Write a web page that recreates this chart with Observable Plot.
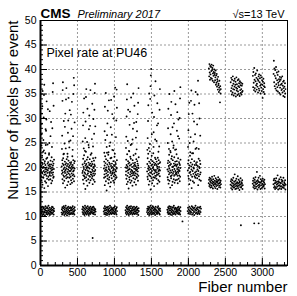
<!DOCTYPE html>
<html><head><meta charset="utf-8">
<script src="https://cdn.jsdelivr.net/npm/d3@7"></script>
<script src="https://cdn.jsdelivr.net/npm/@observablehq/plot@0.6"></script>
<style>body{margin:0;background:#fff}</style>
</head><body><div id="chart"></div>
<script>
// Fiber clusters (start fiber of each module group)
const lowerStarts = [5, 285, 565, 855, 1150, 1440, 1715, 1990];
const lowerWidth = 180;
const upperStarts = [2275, 2570, 2870, 3150];
const upperWidth = 165;

// band near 11 pixels/event
const low11 = [
 [11.2,10.6,11.8,10.9,11.4,10.3,12.0,11.1,10.7,11.6,10.4,11.9,11.0,10.8,11.5,10.2,11.3,12.1,10.9,11.7,10.5,11.2,10.8,11.9,11.1,10.4,11.6,10.7,12.2,11.3,10.6,11.0,11.8,10.3,11.4,10.9,11.0,10.5,11.7,11.3,10.8,12.0,10.6,11.4,11.9,10.9,11.2,10.4,11.6,11.1],
 [10.8,11.5,10.4,11.9,11.2,10.6,11.7,10.9,12.1,11.0,10.3,11.4,11.8,10.7,11.1,12.2,10.5,11.6,10.9,11.3,10.2,11.8,11.0,10.6,11.5,12.0,10.8,11.2,10.4,11.7,11.1,10.7,11.9,10.5,11.3,11.6,11.2,10.7,11.8,10.5,11.4,12.1,10.9,11.1,10.6,11.6,11.0,10.4,11.9,11.3],
 [11.5,10.9,12.0,10.5,11.3,11.8,10.7,11.1,10.3,11.6,12.2,10.8,11.4,10.6,11.9,11.0,10.4,11.7,11.2,10.9,12.1,10.6,11.5,11.0,10.3,11.8,11.3,10.7,11.6,10.5,12.0,11.1,10.8,11.4,10.9,11.7,11.1,10.6,11.9,11.4,10.8,12.0,10.5,11.2,11.7,10.9,11.3,10.4,11.5,11.0],
 [11.0,11.7,10.5,11.3,12.1,10.8,11.6,10.4,11.2,11.9,10.7,11.4,10.3,11.8,11.1,10.6,12.0,11.5,10.9,11.2,10.4,11.7,11.0,12.2,10.6,11.3,10.8,11.9,11.5,10.5,11.1,11.6,10.7,11.4,10.9,11.8,11.3,10.6,11.8,11.0,10.5,12.1,10.9,11.5,11.2,10.7,11.6,10.4,11.9,11.1],
 [11.3,10.7,11.9,11.0,10.4,11.6,12.2,10.9,11.4,10.6,11.8,11.1,10.3,11.5,12.0,10.8,11.2,10.5,11.7,11.0,12.1,10.7,11.3,10.9,11.6,10.4,11.9,11.2,10.6,11.5,10.8,12.0,11.1,10.5,11.4,11.7,11.0,10.6,11.8,11.3,10.9,12.0,10.5,11.4,11.6,10.8,11.2,10.3,11.7,11.1],
 [10.9,11.6,11.2,10.5,12.0,11.4,10.8,11.7,10.3,11.1,11.9,10.6,11.5,12.2,10.9,11.3,10.4,11.8,11.0,10.7,11.6,12.1,10.5,11.2,11.9,10.8,11.4,10.6,11.7,11.1,10.3,11.5,12.0,10.9,11.3,10.7,11.2,10.5,11.8,11.0,10.7,12.1,10.9,11.4,11.7,10.6,11.3,10.4,11.6,11.1],
 [11.4,10.8,11.1,11.9,10.5,11.6,10.9,12.1,11.3,10.6,11.7,10.4,11.2,12.0,10.8,11.5,11.0,10.3,11.8,11.3,10.7,11.9,10.5,11.1,12.2,10.9,11.6,10.6,11.4,11.8,10.4,11.0,11.7,10.8,11.2,11.5,11.0,10.6,11.8,11.3,10.9,12.0,10.5,11.4,11.6,10.7,11.2,10.4,11.9,11.1],
 [11.1,11.8,10.6,11.4,10.9,12.0,11.2,10.5,11.7,11.0,10.8,11.5,12.1,10.4,11.3,11.9,10.7,11.6,11.1,10.3,11.8,10.9,11.4,12.2,10.6,11.2,11.7,10.8,11.5,10.5,11.9,11.0,11.3,10.7,11.8,10.5,11.1,12.0,10.9,11.6]
];

// band near 20 pixels/event
const mid20 = [
 [19.5,18.2,21.0,17.4,20.3,19.1,22.4,18.8,16.5,20.7,19.9,18.0,21.6,17.9,20.1,19.3,23.5,18.5,15.8,20.9,19.0,21.3,17.2,19.7,20.5,18.6,24.6,19.2,16.9,21.8,18.3,20.0,19.6,17.7,22.0,18.9,20.8,19.4,16.2,21.1,18.1,20.4,19.8,17.5,22.9,19.0,18.4,20.6,18.7,20.2,19.1,17.6,21.4,19.8,18.3,20.6,16.8,19.4,22.1,18.9,20.0,17.3,19.6,21.2,18.5,20.4,19.0,17.9,20.8,18.1,19.7,21.6],
 [20.2,18.7,19.4,21.5,17.6,20.8,19.0,16.8,21.9,18.4,20.5,19.7,22.8,18.1,17.3,20.0,19.2,21.2,18.9,15.9,20.6,19.5,23.9,18.3,20.9,17.8,19.8,21.7,18.6,20.3,16.4,19.1,22.2,18.0,20.7,19.6,17.1,21.4,18.8,20.1,25.3,19.3,17.9,20.4,18.5,21.0,19.9,16.6,19.3,18.1,20.7,17.4,21.1,19.6,18.8,20.2,16.9,19.9,22.3,18.4,20.5,17.7,19.2,21.5,18.6,20.0,19.4,17.2,20.9,18.2,19.8,21.3],
 [18.9,20.6,19.3,17.5,21.8,18.4,20.1,16.7,19.7,22.5,18.2,20.9,19.0,17.8,21.3,18.7,15.6,20.4,19.5,23.2,18.0,20.7,17.3,19.9,21.6,18.5,20.2,16.3,19.4,22.1,18.8,20.0,17.6,21.0,19.2,24.1,18.3,20.5,16.9,19.8,21.7,18.1,20.8,19.1,17.4,22.6,18.6,20.3,19.0,20.4,18.5,21.2,17.8,19.6,20.7,18.2,16.6,19.3,21.9,18.8,20.1,17.5,19.9,21.4,18.4,20.6,19.2,17.1,20.3,18.7,19.5,22.0],
 [19.8,17.9,21.2,18.6,20.4,16.4,19.3,22.3,18.1,20.9,19.6,17.2,21.7,18.8,20.0,15.3,19.4,23.0,18.3,20.6,17.7,21.4,19.1,18.5,22.6,16.8,20.2,19.7,17.5,21.0,18.0,24.4,19.5,20.7,16.1,18.9,21.9,19.2,17.0,20.3,18.4,22.0,19.9,17.8,20.8,18.7,23.6,19.0,18.8,20.1,19.4,17.3,21.3,19.7,18.2,20.5,16.9,19.0,22.2,18.6,20.3,17.6,19.5,21.1,18.4,20.7,19.2,17.9,20.0,18.0,19.8,21.5],
 [20.0,18.5,19.2,21.6,17.7,20.5,16.6,19.9,22.7,18.3,20.2,19.4,17.1,21.3,18.9,20.8,15.7,19.6,23.4,18.0,21.0,17.5,19.7,20.4,18.6,22.2,16.9,19.1,21.8,18.2,20.6,19.5,17.3,24.8,18.8,20.1,19.3,16.3,21.5,18.4,20.9,19.0,17.8,22.5,18.7,20.3,19.8,17.0,19.1,20.6,18.4,21.0,17.6,19.7,20.3,18.8,16.5,19.4,21.7,18.1,20.0,17.9,19.6,21.3,18.6,20.8,19.2,17.3,20.4,18.3,19.9,22.1],
 [19.2,20.7,18.1,21.9,17.6,19.8,22.8,18.7,20.3,16.5,19.5,21.2,18.4,20.0,17.2,23.3,19.0,20.9,18.2,15.5,19.7,21.6,18.9,20.4,17.8,22.4,19.3,16.8,20.6,18.6,21.3,19.9,17.4,20.1,18.0,24.2,19.6,21.0,16.2,18.8,20.5,19.4,17.9,22.0,18.3,20.8,19.1,21.7,19.5,18.3,20.5,17.7,21.2,19.0,18.6,20.2,16.7,19.8,22.0,18.5,20.7,17.4,19.3,21.5,18.8,20.1,19.6,17.1,20.9,18.2,19.4,21.1],
 [19.6,18.0,20.9,17.5,21.4,19.2,16.7,20.3,18.6,22.6,19.8,17.3,21.1,18.9,20.5,15.9,19.4,23.1,18.2,20.7,17.8,21.8,19.0,18.4,22.3,16.4,20.1,19.5,17.1,21.5,18.7,20.2,24.0,19.1,17.6,20.8,18.3,22.1,19.7,16.9,20.4,18.5,21.2,19.3,17.4,20.6,18.8,23.7,19.0,20.3,18.6,21.3,17.5,19.7,20.6,18.3,16.8,19.2,21.9,18.9,20.0,17.7,19.5,21.1,18.4,20.8,19.3,17.2,20.5,18.1,19.9,21.6],
 [19.4,20.8,18.3,21.5,17.7,19.9,16.6,20.4,18.9,22.4,19.1,17.4,21.0,18.5,20.2,19.6,15.8,21.7,18.1,20.6,19.3,17.2,22.9,18.7,20.0,19.8,16.9,21.3,18.2,20.5,19.0,17.9,23.8,18.6,20.9,19.2,20.5,18.4,21.1,17.8,19.6,20.3,18.7,16.4,19.3,21.8,18.2,20.1,17.5,19.9,21.4,18.6,20.7,19.0,17.3]
];

// high-rate fibers: [offset within group, pixels/event]
const highRate = [
 [[8,24.5],[10,26.8],[12,28.9],[14,31.0],[20,32.5],[24,35.6],[30,23.2],[34,25.6],[38,30.2],[42,34.8],[46,36.9],[60,22.9],[64,27.8],[70,27.5],[74,29.8],[78,33.5],[90,24.7],[95,31.9],[110,22.6],[115,25.0],[120,31.5],[130,26.4],[138,29.3],[150,24.2],[155,28.0],[160,35.4],[165,37.2],[172,32.6]],
 [[5,23.8],[8,26.5],[12,33.6],[15,35.8],[18,37.4],[25,22.7],[30,29.5],[40,24.9],[45,28.3],[50,31.0],[60,33.9],[65,36.2],[80,22.8],[86,27.1],[90,29.6],[94,34.2],[105,24.1],[110,31.7],[120,25.5],[126,30.8],[135,27.9],[140,33.4],[150,23.6],[155,26.4],[160,35.0],[165,38.3],[170,36.8],[176,29.2]],
 [[6,25.3],[10,28.6],[14,31.2],[20,23.9],[25,34.1],[35,23.4],[40,26.0],[45,29.4],[50,34.4],[54,36.0],[65,25.2],[70,32.0],[85,24.6],[90,27.8],[95,30.6],[105,28.5],[110,35.8],[125,22.9],[130,25.8],[135,33.0],[145,24.3],[150,29.9],[160,26.9],[164,31.8],[168,35.2],[172,37.1],[176,28.4]],
 [[8,23.0],[12,27.4],[16,32.4],[22,25.6],[28,35.2],[40,24.2],[45,26.6],[50,29.0],[55,31.6],[65,23.1],[70,33.7],[90,25.1],[95,28.2],[100,33.8],[110,26.7],[115,30.9],[130,23.5],[135,30.0],[140,34.5],[150,22.8],[155,36.3],[165,26.2],[170,29.6],[174,35.9],[178,32.2]],
 [[6,24.0],[10,26.3],[14,30.4],[18,33.9],[22,37.0],[30,25.4],[35,31.8],[50,23.3],[55,28.7],[60,31.4],[70,24.6],[75,34.3],[95,25.7],[100,27.9],[105,35.1],[115,29.1],[120,32.6],[135,22.8],[140,26.1],[145,29.3],[150,23.7],[155,27.4],[165,30.9],[170,33.2],[176,36.2]],
 [[5,23.6],[9,26.0],[14,29.5],[18,32.7],[25,24.0],[30,35.1],[40,24.8],[44,34.0],[48,36.6],[52,38.8],[56,40.1],[65,26.8],[70,31.2],[85,22.9],[90,27.2],[95,30.3],[100,34.7],[110,25.7],[115,37.6],[130,25.4],[135,28.6],[140,33.1],[150,29.0],[155,23.2],[165,24.3],[170,31.8],[175,36.0]],
 [[6,25.0],[10,28.0],[14,32.0],[22,23.8],[28,35.0],[40,23.4],[45,26.8],[50,30.7],[54,33.4],[65,25.3],[70,28.2],[85,24.5],[90,29.0],[95,35.6],[105,23.6],[110,32.9],[125,22.7],[130,27.5],[135,31.3],[145,26.4],[150,29.8],[160,25.9],[166,30.1],[172,34.1],[176,36.4]],
 [[5,24.2],[10,27.6],[15,30.9],[22,33.2],[28,25.0],[35,23.1],[40,26.2],[45,33.6],[50,35.7],[60,22.9],[65,31.0],[80,25.3],[86,29.4],[92,32.8],[100,26.8],[108,35.4],[120,24.0],[128,28.8],[135,34.9],[140,37.7],[150,23.8],[155,33.1],[160,30.0],[170,26.5]]
];

// upper fibers: band near 17
const upper17 = [
 [16.8,17.5,16.2,17.9,16.5,17.2,15.9,17.7,16.9,16.3,17.4,16.0,18.1,16.7,17.1,15.7,17.6,16.4,17.0,16.6,18.3,16.1,17.3,16.8,15.8,17.8,16.5,17.1,16.2,17.5,16.9,15.6,17.2,16.4,18.0,16.7,17.4,16.0,16.8,17.6,16.3,17.0,15.9,17.3,16.6],
 [16.5,17.2,15.8,17.6,16.3,16.9,15.5,17.4,16.1,16.7,17.9,15.9,16.4,17.1,16.0,18.6,16.6,15.6,17.3,16.2,16.8,17.7,15.7,16.4,17.0,16.1,18.2,16.7,15.8,17.5,16.3,16.9,15.4,17.2,16.5,16.0,17.8,16.6,15.9,17.0,16.2,16.8,17.4,15.6,16.4],
 [16.7,17.3,16.0,17.8,16.4,17.0,15.7,17.5,16.2,16.9,18.0,15.8,16.6,17.2,16.1,19.1,16.8,15.5,17.4,16.3,17.1,17.9,15.9,16.5,17.0,16.2,18.3,16.9,15.6,17.6,16.4,17.1,15.8,17.3,16.7,16.0,17.7,16.5,16.1,17.2,16.3,16.9,17.5,15.7,16.6],
 [16.6,17.4,15.9,17.7,16.2,16.8,15.6,17.3,16.0,16.9,17.8,15.8,16.5,17.1,16.1,18.4,16.7,15.5,17.2,16.3,17.0,17.6,15.7,16.4,16.9,16.1,18.0,16.8,15.6,17.5,16.2,17.1,15.9,17.3,16.6,16.0,17.9,16.4,15.8,17.0,16.3,16.7,17.4,15.5,16.5]
];

// upper fibers: band near 37
const upper37 = [
 [40.2,38.6,41.1,39.4,37.9,40.7,39.0,38.3,40.5,39.7,41.0,38.1,39.9,40.3,37.7,39.2,40.8,38.7,39.5,37.4,40.0,38.9,39.3,37.8,38.4,39.8,36.9,38.8,37.3,39.1,36.5,38.0,37.6,35.9,38.5,36.8,37.1,35.4,36.3,37.7,35.8,33.3,36.6,35.1,36.0],
 [37.4,35.6,38.3,36.2,34.9,37.9,36.7,35.3,38.6,36.0,37.1,34.7,37.7,35.9,36.5,38.1,35.1,36.9,37.5,34.5,36.3,38.4,35.7,37.0,36.1,34.8,37.8,35.5,36.6,38.0,35.0,37.2,36.4,34.6,37.6,35.8,36.8,35.2,37.3,36.0,34.9,36.7,35.4,37.1,35.6],
 [38.7,36.4,39.5,37.3,35.8,40.3,37.9,36.2,38.9,35.5,37.6,39.2,36.8,38.3,35.9,37.1,39.8,36.5,38.0,35.3,37.7,38.6,36.1,39.0,35.7,37.4,38.2,36.7,35.1,38.8,37.0,36.3,38.4,35.6,37.8,36.9,34.2,37.5,36.0,38.1,35.4,36.6,37.2,35.0,36.4],
 [39.1,41.8,37.4,40.2,36.6,38.7,39.9,36.1,38.2,40.5,37.0,35.7,39.4,37.8,36.4,38.9,35.5,37.3,39.6,36.8,38.0,35.2,37.6,38.5,36.3,34.9,37.9,36.9,38.3,35.8,37.1,36.0,38.6,35.3,36.7,37.5,34.6,36.2,37.7,35.6,36.5,34.4,37.2,35.1,36.0]
];

// isolated fibers
const outlierFiber = [705, 1920, 2710, 2890, 2950];
const outlierRate  = [5.6, 9.0, 8.2, 8.6, 8.6];

// axis ticks
const xMajor = [0, 500, 1000, 1500, 2000, 2500, 3000];
const xMinor = d3.range(0, 3340, 100);
const yMajor = [0, 5, 10, 15, 20, 25, 30, 35, 40, 45, 50];
const yMinor = d3.range(0, 51, 1);

// build table (fiber index runs sequentially inside each group)
const points = [];
lowerStarts.forEach((s, k) => {
  low11[k].forEach((y, i, a) => points.push({x: s + i * lowerWidth / (a.length - 1), y}));
  mid20[k].forEach((y, i, a) => points.push({x: s + 2 + i * (lowerWidth - 4) / (a.length - 1), y}));
  highRate[k].forEach(([o, y]) => points.push({x: s + o, y}));
});
upperStarts.forEach((s, k) => {
  upper17[k].forEach((y, i, a) => points.push({x: s + i * upperWidth / (a.length - 1), y}));
  upper37[k].forEach((y, i, a) => points.push({x: s + 2 + i * (upperWidth - 4) / (a.length - 1), y}));
});
outlierFiber.forEach((x, i) => points.push({x, y: outlierRate[i]}));

const font = "'Liberation Sans', Arial, Helvetica, sans-serif";
const chart = Plot.plot({
  width: 297, height: 296,
  marginLeft: 40, marginRight: 10, marginTop: 20, marginBottom: 31,
  style: {fontFamily: font, fontSize: "10.5px", background: "#fff", color: "#000", overflow: "visible"},
  x: {domain: [0, 3340], ticks: xMajor, tickSize: 0, tickPadding: 3, label: null, tickFormat: d => String(d)},
  y: {domain: [0, 50], ticks: yMajor, tickSize: 0, tickPadding: 4, label: null, tickFormat: d => String(d)},
  marks: [
    Plot.ruleX(xMajor.slice(1), {stroke: "#9a9a9a", strokeDasharray: "2,2", strokeWidth: 1}),
    Plot.ruleY(yMajor.slice(1, -1), {stroke: "#9a9a9a", strokeDasharray: "2,2", strokeWidth: 1}),
    Plot.dot(points, {x: "x", y: "y", r: 0.95, fill: "#000", stroke: null}),
    Plot.tickX(xMinor, {x: d => d, insetTop: 242, stroke: "#000"}),
    Plot.tickX(xMajor, {x: d => d, insetTop: 238, stroke: "#000"}),
    Plot.tickY(yMinor, {y: d => d, insetRight: 244, stroke: "#000"}),
    Plot.tickY(yMajor, {y: d => d, insetRight: 240, stroke: "#000"}),
    Plot.frame({stroke: "#000", strokeWidth: 1}),
    Plot.ruleX([0], {stroke: "#000", strokeWidth: 2}),
    Plot.ruleY([0], {stroke: "#000", strokeWidth: 2}),
    Plot.text(["CMS"], {text: d => d, frameAnchor: "top-left", dy: -3, lineAnchor: "bottom", textAnchor: "start", fontWeight: "bold", fontSize: 13.5, fill: "#000"}),
    Plot.text(["Preliminary 2017"], {text: d => d, frameAnchor: "top-left", dx: 37, dy: -3, lineAnchor: "bottom", textAnchor: "start", fontStyle: "italic", fontSize: 11, fill: "#000"}),
    Plot.text(["√s=13 TeV"], {text: d => d, frameAnchor: "top-right", dx: -3, dy: -3, lineAnchor: "bottom", textAnchor: "end", fontSize: 11, fill: "#000"}),
    Plot.text(["Pixel rate at PU46"], {text: d => d, frameAnchor: "top-left", dx: 6, dy: 36, lineAnchor: "bottom", textAnchor: "start", fontSize: 12.5, fill: "#000"}),
    Plot.text(["Number of pixels per event"], {text: d => d, frameAnchor: "top-left", dx: -23, rotate: -90, lineAnchor: "bottom", textAnchor: "end", fontSize: 15, fill: "#000"}),
    Plot.text(["Fiber number"], {text: d => d, frameAnchor: "bottom-right", dy: 26, lineAnchor: "bottom", textAnchor: "end", fontSize: 15, fill: "#000"})
  ]
});
document.getElementById("chart").appendChild(chart);
</script>
</body></html>
